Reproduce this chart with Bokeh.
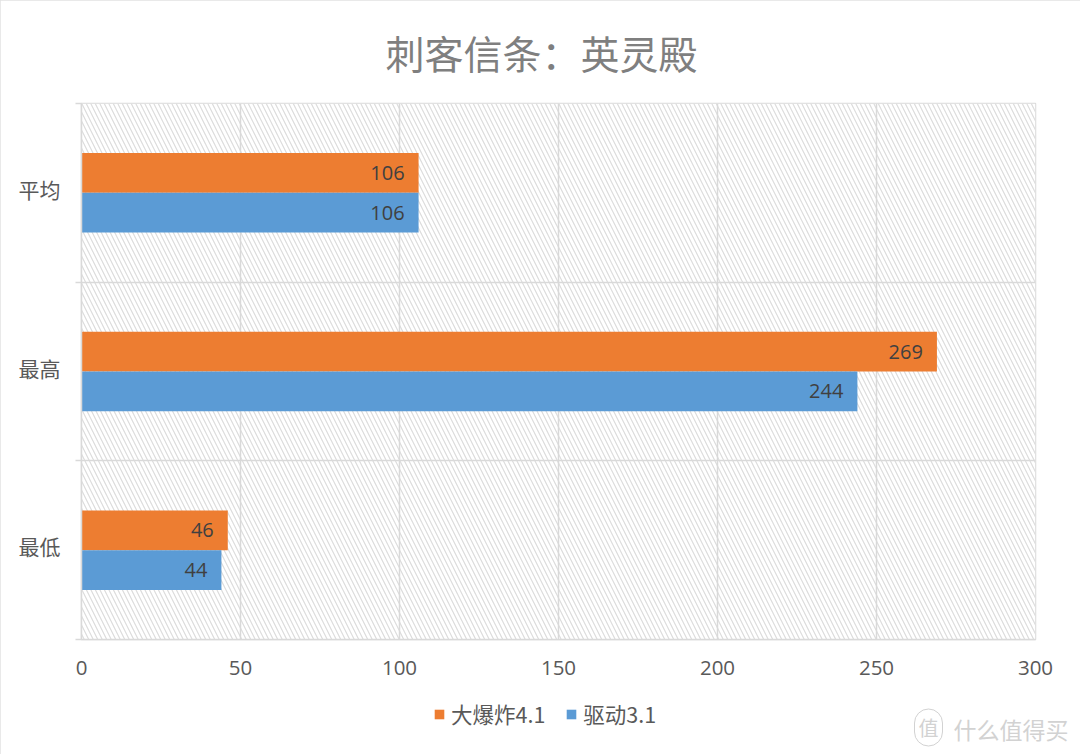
from bokeh.plotting import figure
from bokeh.embed import file_html
from bokeh.resources import INLINE
from bokeh.core.properties import value
from bokeh.models import (ColumnDataSource, FixedTicker, Label, Legend, LegendItem,
                          LabelSet, Range1d, Title)

title = "刺客信条\uff1a英灵殿"
categories = ["最低", "最高", "平均"]
series_a_name = "大爆炸4.1"
series_b_name = "驱动3.1"
series_a = [46, 269, 106]
series_b = [44, 244, 106]
x_ticks = [0, 50, 100, 150, 200, 250, 300]

ORANGE = "#ed7d31"
BLUE = "#5b9bd5"
GRID = "#d9d9d9"
TXT = "#595959"
CJK = "Noto Sans CJK SC"
NUM = "Open Sans"
BAR_H = 0.2225

p = figure(width=1080, height=754, frame_width=954, frame_height=536,
           output_backend="svg", toolbar_location=None,
           x_range=Range1d(0, 300), y_range=Range1d(0, 3),
           min_border_left=81, min_border_right=45, min_border_top=103, min_border_bottom=115,
           background_fill_color="white", border_fill_color="white",
           styles={"outline": "2px solid #e2e2e2", "outline-offset": "-2px"})

p.outline_line_color = GRID
p.outline_line_width = 1.5

# hatched plot background
p.quad(left=[0], right=[300], bottom=[0], top=[3], fill_color="white", line_color=None,
       hatch_pattern="left_diagonal_line", hatch_color="#dcdcdc", hatch_scale=9, hatch_weight=1.2,
       level="image")

ys = [i + 0.5 for i in range(len(categories))]
src_a = ColumnDataSource(dict(y=[v + BAR_H / 2 for v in ys], v=series_a, t=[str(v) for v in series_a]))
src_b = ColumnDataSource(dict(y=[v - BAR_H / 2 for v in ys], v=series_b, t=[str(v) for v in series_b]))

ra = p.hbar(y="y", right="v", left=0, height=BAR_H, source=src_a, fill_color=ORANGE, line_color=None)
rb = p.hbar(y="y", right="v", left=0, height=BAR_H, source=src_b, fill_color=BLUE, line_color=None)

for s in (src_a, src_b):
    p.add_layout(LabelSet(x="v", y="y", text="t", source=s, x_offset=-14, text_align="right",
                          text_baseline="middle", text_color="#404040", text_font=value(NUM),
                          text_font_size="20px"))

# axes
p.xaxis.ticker = FixedTicker(ticks=x_ticks)
p.xaxis.axis_line_color = GRID
p.xaxis.axis_line_width = 1.5
p.xaxis.major_tick_line_color = None
p.xaxis.minor_tick_line_color = None
p.xaxis.major_label_text_font = NUM
p.xaxis.major_label_text_font_size = "20.5px"
p.xaxis.major_label_text_color = TXT
p.xaxis.major_label_standoff = 15

label_ys = [0.522, 1.522, 2.522]
p.yaxis.ticker = FixedTicker(ticks=label_ys, minor_ticks=[0, 1, 2, 3])
p.yaxis.major_label_overrides = {y: c for y, c in zip(label_ys, categories)}
p.yaxis.axis_line_color = GRID
p.yaxis.axis_line_width = 1.5
p.yaxis.major_tick_line_color = None
p.yaxis.minor_tick_line_color = GRID
p.yaxis.minor_tick_line_width = 1.5
p.yaxis.minor_tick_in = 0
p.yaxis.minor_tick_out = 6
p.yaxis.major_label_text_font = CJK
p.yaxis.major_label_text_font_size = "21px"
p.yaxis.major_label_text_color = TXT
p.yaxis.major_label_standoff = 15

p.xgrid.grid_line_color = GRID
p.xgrid.grid_line_width = 1.5
p.ygrid.grid_line_color = None
p.ygrid.minor_grid_line_color = GRID
p.ygrid.minor_grid_line_width = 1.5

# title
p.add_layout(Title(text=title, align="left", vertical_align="top", offset=304, standoff=44, text_font=CJK,
                   text_font_size="39px", text_font_style="normal", text_color="#7f7f7f"), "above")

# legend
legend = Legend(items=[LegendItem(label=series_a_name, renderers=[ra]),
                       LegendItem(label=series_b_name, renderers=[rb])],
                orientation="horizontal", location=(352, 565), glyph_width=12, glyph_height=12,
                label_text_font=CJK, label_text_font_size="21.5px", label_text_color=TXT,
                border_line_color=None, background_fill_alpha=0, spacing=20, label_standoff=6,
                margin=0, padding=0)
p.add_layout(legend, "below")

# watermark
WM = "#d2d2d2"
p.add_layout(Label(x=847, y=487, x_units="screen", y_units="screen", text="值", text_align="center",
                   text_baseline="middle", text_font=CJK, text_font_size="20px", text_color=WM,
                   border_line_color=WM, border_radius=15, padding=4), "below")
p.add_layout(Label(x=872, y=520, x_units="screen", y_units="screen", text="什么值得买", text_align="left",
                   text_baseline="middle", text_font=CJK, text_font_size="23px", text_color=WM), "below")

open("out.html", "w").write(file_html(p, INLINE))
